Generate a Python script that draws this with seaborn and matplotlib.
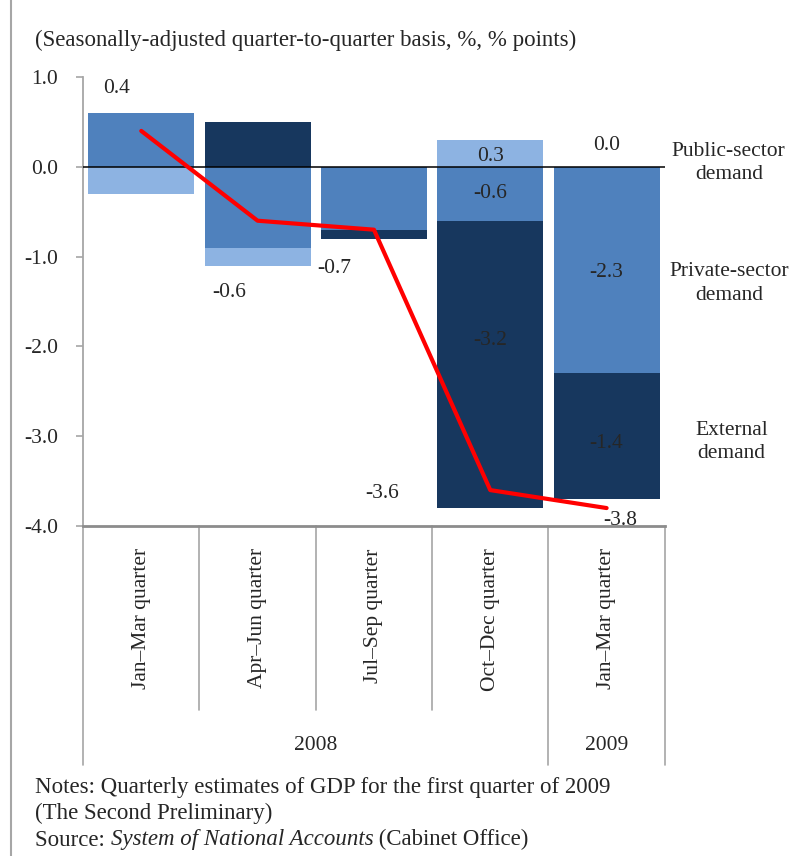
import numpy as np
import seaborn as sns
import matplotlib.pyplot as plt
from matplotlib.lines import Line2D

# data
quarters = ["2008 Q1", "2008 Q2", "2008 Q3", "2008 Q4", "2009 Q1"]
quarter_labels = ["Jan\u2013Mar quarter", "Apr\u2013Jun quarter", "Jul\u2013Sep quarter",
                  "Oct\u2013Dec quarter", "Jan\u2013Mar quarter"]
years = ["2008", "2009"]
public = [-0.3, -0.2, 0.0, 0.3, 0.0]
private = [0.6, -0.9, -0.7, -0.6, -2.3]
external = [0.0, 0.5, -0.1, -3.2, -1.4]
gdp = [0.4, -0.6, -0.7, -3.6, -3.8]
series_names = ["Public-sector\ndemand", "Private-sector\ndemand", "External\ndemand"]

FS = 15.5
FS_NOTE = 16.5
sns.set_style("white")
plt.rcParams["font.family"] = ["Liberation Serif", "DejaVu Serif"]
plt.rcParams["font.size"] = FS
plt.rcParams["axes.unicode_minus"] = False

fig = plt.figure(figsize=(7.99, 8.56), dpi=100)
ax = fig.add_axes([0.104, 0.3855, 0.728, 0.5245])

colors = {"public": "#8DB3E2", "private": "#4F81BD", "external": "#17375E"}
series = {"private": private, "public": public, "external": external}

pos_base = np.zeros(len(quarters))
neg_base = np.zeros(len(quarters))
for name, vals in series.items():
    v = np.array(vals)
    bottom = np.where(v >= 0, pos_base, neg_base)
    sns.barplot(x=quarters, y=v, bottom=bottom, color=colors[name], saturation=1,
                width=0.91, errorbar=None, edgecolor="none", linewidth=0, ax=ax)
    pos_base += np.clip(v, 0, None)
    neg_base += np.clip(v, None, 0)

ax.axhline(0, color="black", lw=1.1, zorder=3)
sns.lineplot(x=np.arange(len(quarters)), y=gdp, color="#FF0000", lw=3, ax=ax, zorder=4)

# labels for GDP line (pixel offsets)
offsets = [(-25, 42), (-28, -72), (-40, -39), (-108, -3), (14, -12)]
for i, (g, off) in enumerate(zip(gdp, offsets)):
    ax.annotate(f"{g:.1f}", (i, g), xytext=off, textcoords="offset pixels",
                ha="center", va="center", fontsize=FS)

# segment labels in the last two bars
nudge = {(3, "public"): -0.03, (4, "public"): 0.24, (3, "external"): 0.27,
         (4, "external"): -0.08, (4, "private"): -0.03}
for i in [3, 4]:
    pb = 0.0
    nb = 0.0
    for name in ["private", "public", "external"]:
        v = series[name][i]
        if v >= 0:
            mid = pb + v / 2
            pb += v
        else:
            mid = nb + v / 2
            nb += v
        mid += nudge.get((i, name), 0)
        ax.text(i, mid, f"{v:.1f}", ha="center", va="center", fontsize=FS, zorder=5)

ax.set_xlim(-0.5, 4.5)
ax.set_ylim(-4, 1)
yt = np.arange(-4, 1.01, 1)
ax.set_yticks(yt)
ax.set_yticklabels([f"{t:.1f}" for t in yt])
ax.set_xticks(range(len(quarters)))
ax.set_xticklabels(quarter_labels, rotation=90, va="top", ha="center")
ax.tick_params(axis="x", length=0, pad=16, labelsize=FS)
ax.tick_params(axis="y", direction="out", length=5, color="#A6A6A6", width=1.2,
               labelsize=FS, pad=13, left=True)
ax.set_xlabel("")
ax.set_ylabel("")
for s in ["top", "right"]:
    ax.spines[s].set_visible(False)
ax.spines["left"].set_color("#A6A6A6")
ax.spines["left"].set_linewidth(1.3)
ax.spines["bottom"].set_color("#8C8C8C")
ax.spines["bottom"].set_linewidth(2)
ax.spines["bottom"].set_zorder(6)

# category separators below the axis
tr = ax.get_xaxis_transform()
for xb in [0.5, 1.5, 2.5]:
    ax.plot([xb, xb], [0, -0.41], transform=tr, color="#A6A6A6", lw=1.2, clip_on=False)
for xb in [-0.5, 3.5, 4.5]:
    ax.plot([xb, xb], [0, -0.532], transform=tr, color="#A6A6A6", lw=1.2, clip_on=False)
ax.text(1.5, -0.488, years[0], transform=tr, ha="center", va="center", fontsize=FS)
ax.text(4.0, -0.488, years[1], transform=tr, ha="center", va="center", fontsize=FS)

# series labels to the right
label_pos = [(1.11, 0.04), (1.11, -1.3), (1.115, -3.06)]
ytr = ax.get_yaxis_transform()
for name, (xp, yp) in zip(series_names, label_pos):
    ax.text(xp, yp, name, transform=ytr, ha="center", va="center", fontsize=FS,
            linespacing=1.3, clip_on=False)

fig.text(0.044, 0.953, "(Seasonally-adjusted quarter-to-quarter basis, %, % points)",
         ha="left", va="center", fontsize=FS_NOTE)
fig.text(0.044, 1 - 787 / 856, "Notes: Quarterly estimates of GDP for the first quarter of 2009",
         ha="left", va="center", fontsize=FS_NOTE)
fig.text(0.044, 1 - 813 / 856, "(The Second Preliminary)", ha="left", va="center", fontsize=FS_NOTE)
t1 = fig.text(0.044, 1 - 840 / 856, "Source: ", ha="left", va="center", fontsize=FS_NOTE)
t2 = ax.annotate("System of National Accounts", xy=(1, 0), xycoords=t1, va="bottom",
                 ha="left", fontsize=FS_NOTE, style="italic")
ax.annotate(" (Cabinet Office)", xy=(1, 0), xycoords=t2, va="bottom", ha="left", fontsize=FS_NOTE)

fig.add_artist(Line2D([0.014, 0.014], [0, 1], transform=fig.transFigure, color="#A6A6A6", lw=1.5))

fig.savefig("out.png", dpi=100)
